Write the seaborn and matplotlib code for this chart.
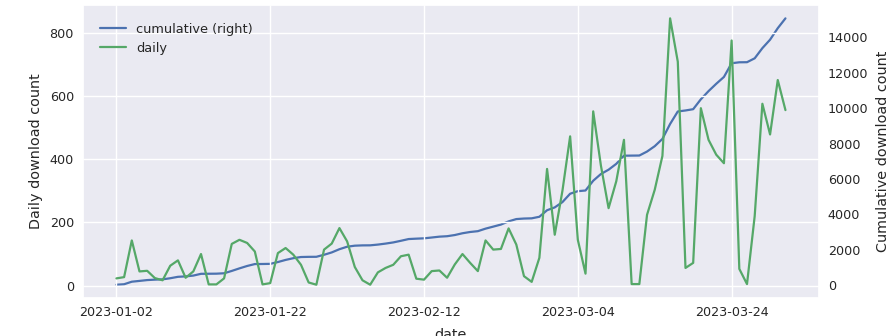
import numpy as np
import pandas as pd
import matplotlib
matplotlib.use("Agg")
import matplotlib.pyplot as plt
import seaborn as sns

# Daily downloads, one value per reported day
daily = [
    23, 27, 143, 45, 47, 24, 17, 63, 80, 25, 45, 100, 4, 4, 23, 132, 145, 135, 108, 4,
    8, 103, 119, 98, 66, 10, 3, 114, 133, 182, 140, 59, 17, 3, 42, 56, 66, 93, 98, 22,
    19, 46, 48, 25, 67, 100, 72, 46, 143, 114, 116, 181, 130, 30, 12, 88, 369, 161, 300, 472,
    145, 38, 551, 380, 245, 330, 461, 5, 5, 224, 303, 410, 845, 708, 56, 72, 561, 461, 414, 387,
    775, 53, 5, 220, 575, 478, 650, 555,
]

# Date labels shown every 20 reported days
tick_labels = ["2023-01-02", "2023-01-22", "2023-02-12", "2023-03-04", "2023-03-24"]
tick_step = 20

BLUE = "#4C72B0"
GREEN = "#55A868"

sns.set_theme(style="darkgrid", palette="deep")
plt.rcParams["font.family"] = ["DejaVu Sans"]

df = pd.DataFrame({"day": np.arange(len(daily)), "daily": daily})
df["cumulative"] = df["daily"].cumsum()

fig, ax = plt.subplots(figsize=(8.94, 3.36), dpi=100)
fig.subplots_adjust(left=0.0928, right=0.916, bottom=0.113, top=0.985)
ax2 = ax.twinx()

sns.lineplot(data=df, x="day", y="cumulative", ax=ax2, color=BLUE, lw=1.6, legend=False)
sns.lineplot(data=df, x="day", y="daily", ax=ax, color=GREEN, lw=1.6, legend=False)

# daily line sits above the cumulative one; background comes from the twin axes
ax.set_zorder(ax2.get_zorder() + 1)
ax.patch.set_visible(False)
ax2.patch.set_visible(True)
ax2.patch.set_facecolor("#EAEAF2")
ax2.grid(False)
for sp in ax2.spines.values():
    sp.set_visible(False)

ax.set_xticks(np.arange(len(tick_labels)) * tick_step)
ax.set_xticklabels(tick_labels)
ax.set_yticks([0, 200, 400, 600, 800])
ax2.set_yticks(np.arange(0, 14001, 2000))

ax.tick_params(axis="x", labelsize=9.2, length=0, pad=6)
ax.tick_params(axis="y", labelsize=9.2, length=0, pad=6.5)
ax2.tick_params(axis="y", labelsize=9.2, length=0, pad=6.5)

ax.set_xlabel("date", fontsize=10.4, labelpad=6.5)
ax.set_ylabel("Daily download count", fontsize=10.4, labelpad=5)
ax2.set_ylabel("Cumulative download count", fontsize=10.4, labelpad=5)

handles = [ax2.lines[0], ax.lines[0]]
labels = ["cumulative (right)", "daily"]
ax.legend(handles, labels, loc="upper left", bbox_to_anchor=(0.007, 0.98),
          frameon=False, fontsize=9.3)

fig.savefig("out.png", dpi=100)
